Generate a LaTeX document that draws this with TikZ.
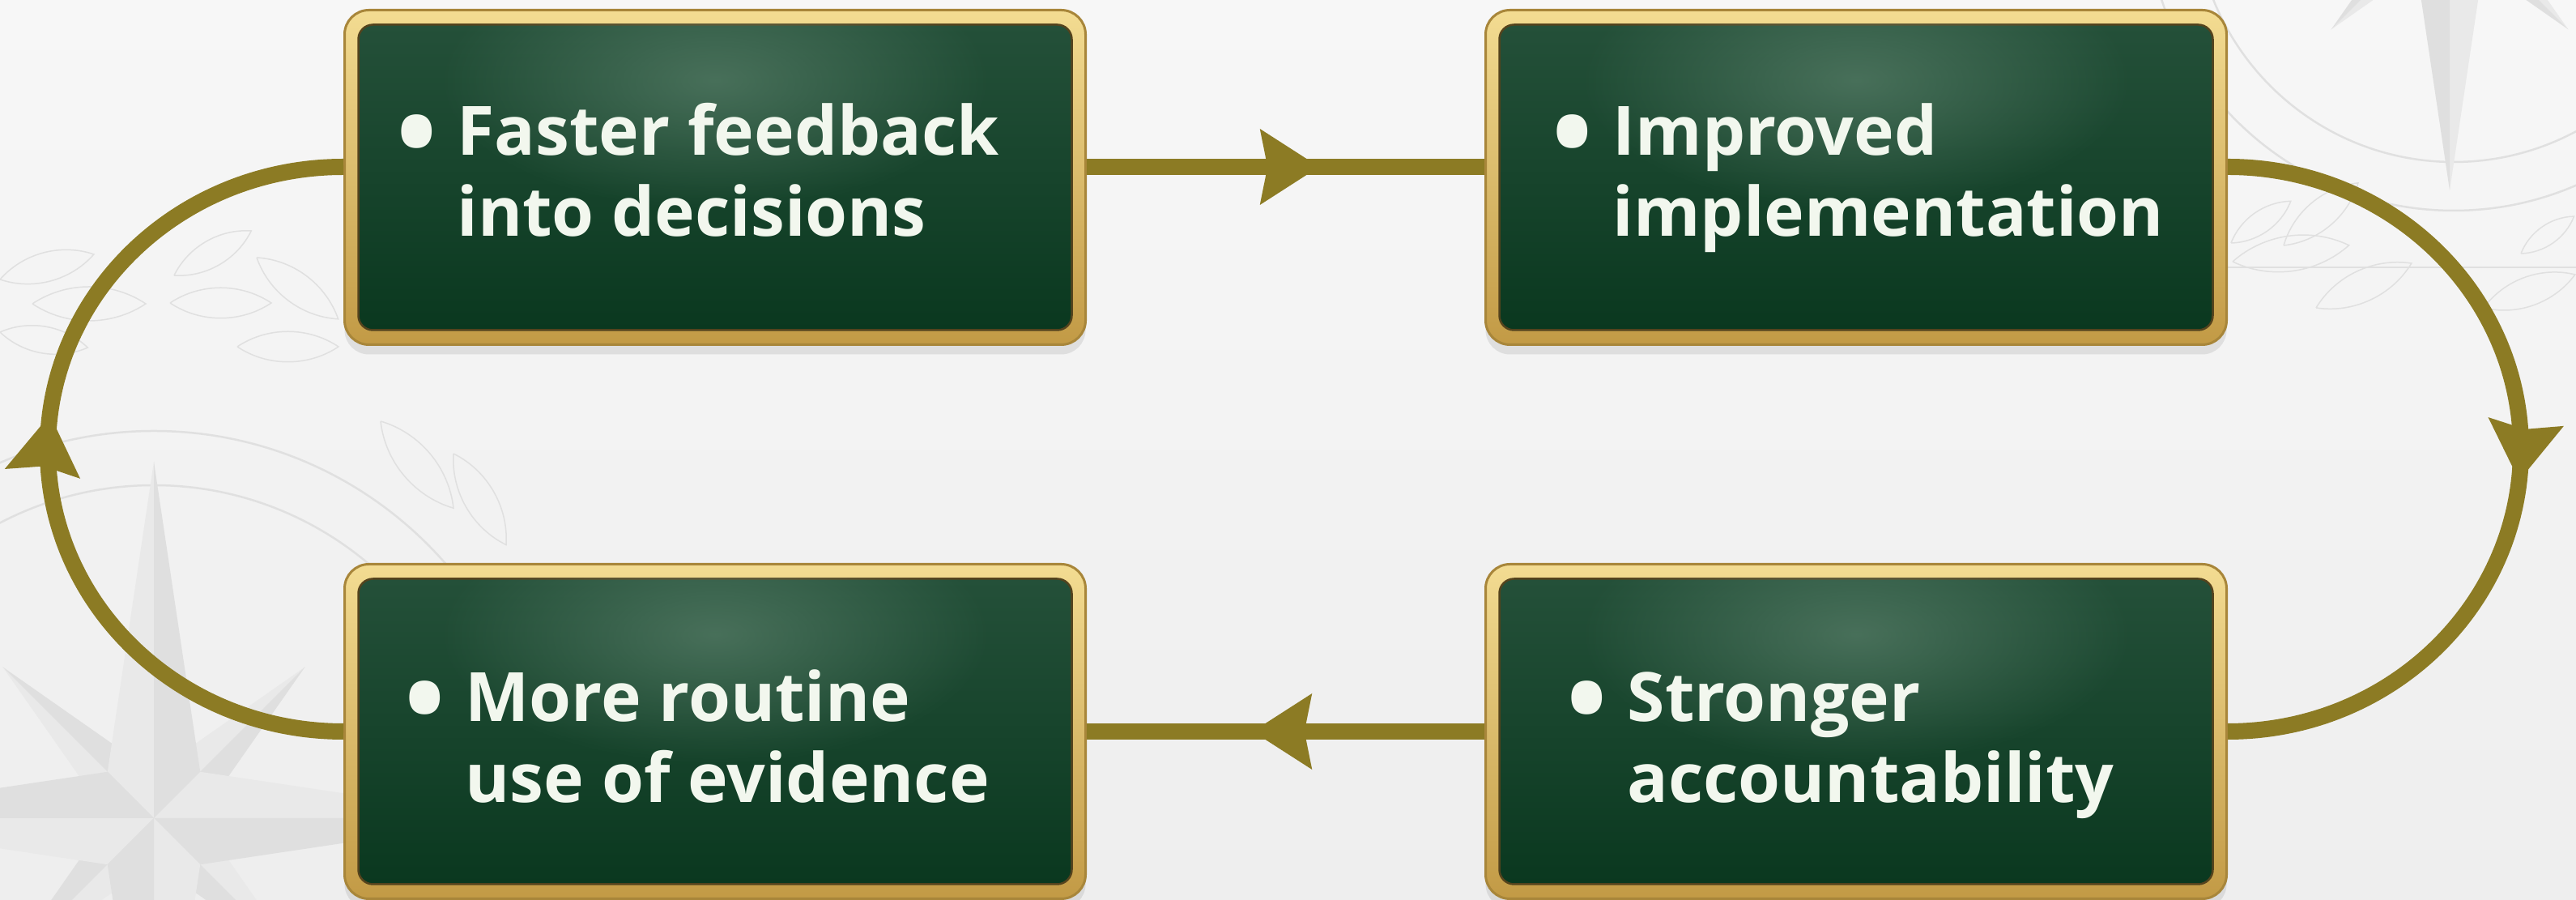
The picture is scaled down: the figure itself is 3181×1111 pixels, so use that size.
\documentclass[tikz,border=0pt]{standalone}
\usepackage{fontspec}
\newfontfamily\boxfont{Open Sans}
\usetikzlibrary{arrows.meta,decorations.markings,shadows,fadings,calc}

\definecolor{bgtop}{HTML}{F7F7F7}
\definecolor{bgbot}{HTML}{EEEEEE}
\definecolor{wmline}{HTML}{E0E0E0}
\definecolor{wmfillA}{HTML}{E9E9E9}
\definecolor{wmfillB}{HTML}{DFDFDF}
\definecolor{arrowcol}{HTML}{8C7B24}
\definecolor{goldL}{HTML}{F3DC92}
\definecolor{goldD}{HTML}{C29A45}
\definecolor{goldE}{HTML}{A8863A}
\definecolor{greenT}{HTML}{245039}
\definecolor{greenB}{HTML}{0A381F}
\definecolor{greenGlow}{HTML}{7A9C88}
\definecolor{textcol}{HTML}{F2F7EE}

\tikzfading[name=glowfade, inner color=transparent!55, outer color=transparent!100]

\newcommand\wmleaf[4]{\draw[wmline, line width=0.15mm, shift={(#1,1111-#2)}, rotate=#3] (0,0) .. controls (0.3*#4,0.2*#4) and (0.7*#4,0.2*#4) .. (#4,0) .. controls (0.7*#4,-0.2*#4) and (0.3*#4,-0.2*#4) .. (0,0);}

\newcommand\wmstar[4]{%
  \begin{scope}[shift={(#1,1111-#2)}, rotate=#4]
    \foreach \a in {45,135,225,315} {
      \fill[wmfillA, rotate=\a] (0,0) -- (0.09*#3,0.09*#3) -- (0.6*#3,0) -- cycle;
      \fill[wmfillB, rotate=\a] (0,0) -- (0.09*#3,-0.09*#3) -- (0.6*#3,0) -- cycle;
    }
    \foreach \a in {0,90,180,270} {
      \fill[wmfillA, rotate=\a] (0,0) -- (0.13*#3,0.13*#3) -- (#3,0) -- cycle;
      \fill[wmfillB, rotate=\a] (0,0) -- (0.13*#3,-0.13*#3) -- (#3,0) -- cycle;
    }
  \end{scope}}

\newcommand\bigbul{\llap{\raisebox{-2.0mm}{\scalebox{1.6}{\textbullet}}\hspace{2.5mm}}}

\newcommand\mkbox[6]{%
  \node[frame] (#1) at (#2,#3) {};
  \node[board] (#1-in) at (#2,#3) {};
  \begin{scope}
    \clip[rounded corners=1.8mm] (#1-in.south west) rectangle (#1-in.north east);
    \fill[greenGlow, path fading=glowfade] ($(#1-in.north)+(0,-7mm)$) ellipse [x radius=34mm, y radius=16mm];
  \end{scope}
  \node[label] (#1-txt) at (#4,#5) {\begin{tabular}[t]{@{}l@{}}#6\end{tabular}};
}

\begin{document}
\begin{tikzpicture}[x=0.1mm, y=0.1mm,
  frame/.style={rectangle, rounded corners=3mm, minimum width=91.5mm, minimum height=41.3mm, inner sep=0pt,
    top color=goldL, bottom color=goldD, draw=goldE, line width=0.3mm,
    drop shadow={shadow xshift=0mm, shadow yshift=-1.2mm, opacity=0.18}},
  board/.style={rectangle, rounded corners=1.8mm, minimum width=88.1mm, minimum height=37.7mm, inner sep=0pt,
    top color=greenT, bottom color=greenB, draw=goldE!50!black, line width=0.25mm},
  label/.style={anchor=base west, inner sep=0pt, text=textcol,
    font=\boxfont\bfseries\fontsize{23.9pt}{28.45pt}\selectfont},
  link/.style={draw=arrowcol, line width=2mm},
  flowtip/.style={postaction={decorate}, decoration={markings,
    mark=at position #1 with {\arrow[arrowcol]{Stealth[length=7.2mm,width=9mm,inset=0.8mm]}}}}
]
\useasboundingbox (0,0) rectangle (3181,1111);
\shade[top color=bgtop, bottom color=bgbot] (0,0) rectangle (3181,1111);

% faint watermarks
\begin{scope}
\clip (0,0) rectangle (3181,1111);
\draw[wmline, line width=0.25mm] (190,1111-1010) circle[radius=478];
\draw[wmline, line width=0.25mm] (190,1111-1010) circle[radius=411];
\wmstar{190}{1010}{440}{0}
\draw[wmline, line width=0.25mm] (3030,1111+120) circle[radius=380];
\draw[wmline, line width=0.25mm] (3030,1111+120) circle[radius=320];
\wmstar{3025}{-110}{345}{0}
\wmleaf{0}{345}{15}{120}
\wmleaf{40}{375}{0}{140}
\wmleaf{0}{410}{-10}{110}
\wmleaf{210}{374}{0}{125}
\wmleaf{317}{318}{-37}{126}
\wmleaf{293}{428}{0}{125}
\wmleaf{215}{340}{30}{110}
\wmleaf{470}{520}{-50}{140}
\wmleaf{560}{560}{-60}{130}
\draw[wmline, line width=0.15mm] (2750,1111-330) -- (3181,1111-330);
\wmleaf{2755}{300}{35}{90}
\wmleaf{2820}{303}{40}{120}
\wmleaf{2757}{323}{8}{145}
\wmleaf{2860}{380}{25}{130}
\wmleaf{3113}{313}{35}{80}
\wmleaf{3067}{380}{20}{120}
\end{scope}

% boxes
\mkbox{tl}{883}{892}{564}{919}{\bigbul Faster feedback\\into decisions}
\mkbox{tr}{2292}{892}{1991}{919}{\bigbul Improved\\implementation}
\mkbox{bl}{883}{208}{574}{220}{\bigbul More routine\\use of evidence}
\mkbox{br}{2292}{208}{2009}{220}{\bigbul Stronger\\accountability}

% connectors
\draw[link, flowtip=0.585] ([yshift=1.3mm]tl.east) -- ([yshift=1.3mm]tr.west);
\draw[link, flowtip=0.535] ([yshift=1.3mm]tr.east) arc[start angle=90, end angle=-90, x radius=36.2mm, y radius=34.85mm];
\draw[link, flowtip=0.583] (br.west) -- (bl.east);
\draw[link, flowtip=0.538] (bl.west) arc[start angle=270, end angle=90, x radius=36.5mm, y radius=34.85mm];
\end{tikzpicture}
\end{document}
